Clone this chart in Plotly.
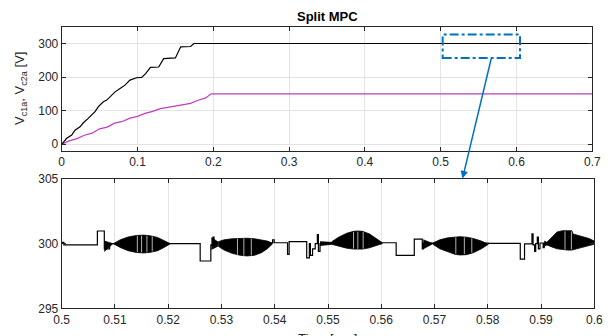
import plotly.graph_objects as go

# ---------------- data: top panel (full transient) ----------------
c1_t = [0, 0.0066, 0.0132, 0.0175, 0.0242, 0.0286, 0.035, 0.0395, 0.044, 0.0484, 0.055,
        0.0594, 0.066, 0.0704, 0.077, 0.0835, 0.09, 0.0989, 0.1055, 0.111, 0.117, 0.128,
        0.1345, 0.150, 0.157, 0.170, 0.1745, 0.18, 0.7]
c1_v = [0, 17.8, 27.6, 42, 52, 64, 77, 87, 97, 112, 126.5,
        131.5, 146, 156, 166, 176, 191, 198, 199, 211, 229, 230,
        255, 257, 290, 291, 300, 300, 300]

c2_t = [0, 0.01, 0.02, 0.03, 0.04, 0.05, 0.06, 0.07, 0.08, 0.09, 0.10, 0.11, 0.12,
        0.13, 0.14, 0.15, 0.16, 0.17, 0.18, 0.19, 0.197, 0.7]
c2_v = [0, 10, 17, 27, 33, 46, 51, 63, 68, 78, 83, 92, 98,
        106, 110, 114, 118, 122, 131, 138, 150, 150]

# zoom window marked on top panel
win_t = [0.5026, 0.6046]
win_v = [257.2, 326.7]

# ---------------- data: bottom panel (zoom 0.5..0.6 s) ----------------
step_t = [0.5000, 0.5004, 0.5067, 0.5080, 0.5090, 0.5260, 0.5280, 0.5284, 0.5286, 0.5290,
          0.5396, 0.5399, 0.5424, 0.5427, 0.5460, 0.5465, 0.5467, 0.5471, 0.5476, 0.5480,
          0.5482, 0.5485, 0.5601, 0.5628, 0.5662, 0.5677, 0.5679, 0.5801, 0.5861, 0.5869,
          0.5883, 0.5885, 0.5888, 0.5890, 0.5893, 0.5895, 0.5898, 0.5904, 0.5906, 0.6000]
step_v = [300.10, 299.90, 300.98, 299.60, 300.00, 298.66, 299.90, 300.50, 299.80, 300.05,
          300.30, 300.07, 299.17, 300.15, 298.90, 300.00, 299.10, 299.60, 300.00, 300.70,
          299.40, 300.00, 300.07, 299.10, 300.35, 299.60, 300.05, 300.02, 298.80, 299.98,
          300.75, 299.90, 299.40, 300.00, 300.50, 299.60, 300.05, 299.70, 300.05, 300.00]

# oscillation bursts: envelope (time, upper, lower)
bursts = [
    ([0.5080, 0.5096], [300.20, 300.00], [299.40, 300.00]),
    ([0.5097, 0.5110, 0.5125, 0.5140, 0.5153, 0.5165, 0.5180, 0.5192, 0.5204],
     [300.00, 300.30, 300.52, 300.63, 300.66, 300.62, 300.48, 300.25, 300.00],
     [300.00, 299.70, 299.45, 299.32, 299.28, 299.32, 299.45, 299.70, 300.00]),
    ([0.5281, 0.5293], [300.45, 300.15], [299.55, 299.80]),
    ([0.5294, 0.5305, 0.5320, 0.5335, 0.5348, 0.5362, 0.5375, 0.5386, 0.5395],
     [300.15, 300.30, 300.38, 300.42, 300.42, 300.38, 300.30, 300.20, 300.05],
     [299.80, 299.50, 299.25, 299.10, 299.05, 299.10, 299.30, 299.60, 299.95]),
    ([0.5485, 0.5507], [300.15, 300.10], [299.85, 299.95]),
    ([0.5507, 0.5520, 0.5535, 0.5548, 0.5556, 0.5565, 0.5578, 0.5590, 0.5601],
     [300.15, 300.50, 300.80, 300.95, 300.98, 300.95, 300.75, 300.40, 300.10],
     [299.95, 299.80, 299.65, 299.58, 299.56, 299.58, 299.68, 299.85, 300.00]),
    ([0.5679, 0.5697], [300.30, 300.00], [299.60, 300.00]),
    ([0.5697, 0.5710, 0.5725, 0.5738, 0.5748, 0.5760, 0.5773, 0.5788, 0.5801],
     [300.05, 300.30, 300.45, 300.52, 300.54, 300.50, 300.40, 300.20, 300.00],
     [299.95, 299.60, 299.35, 299.18, 299.12, 299.15, 299.30, 299.60, 299.95]),
    ([0.5906, 0.5911], [300.20, 300.10], [299.80, 299.90]),
    ([0.5911, 0.5920, 0.5930, 0.5940, 0.5950, 0.5958, 0.5960, 0.5975, 0.5990, 0.6000],
     [300.10, 300.45, 300.90, 301.00, 301.00, 301.00, 300.75, 300.60, 300.40, 300.20],
     [299.90, 299.75, 299.60, 299.55, 299.50, 299.50, 299.55, 299.70, 299.85, 299.95]),
]

# thin white gaps seen inside the bursts: (time, low, high)
gaps = [(0.5142, 299.35, 300.60), (0.5150, 299.32, 300.62), (0.5160, 299.33, 300.60),
        (0.5170, 299.40, 300.55),
        (0.5330, 299.15, 300.38), (0.5342, 299.08, 300.40), (0.5356, 299.10, 300.38),
        (0.5548, 299.62, 300.90), (0.5556, 299.60, 300.93), (0.5566, 299.62, 300.90),
        (0.5740, 299.22, 300.48), (0.5756, 299.20, 300.48), (0.5770, 299.30, 300.40),
        (0.5945, 299.55, 300.95), (0.5957, 299.55, 300.95)]

top_xticks = [0, 0.1, 0.2, 0.3, 0.4, 0.5, 0.6, 0.7]
top_yticks = [0, 100, 200, 300]
bot_xticks = [0.5, 0.51, 0.52, 0.53, 0.54, 0.55, 0.56, 0.57, 0.58, 0.59, 0.6]
bot_yticks = [295, 300, 305]

W, H = 616, 336
AX = '#262626'
GRID = '#e3e3e3'
BLUE = '#0072BD'
FONT = 'Liberation Sans, Arial, sans-serif'

fig = go.Figure()
fig.add_trace(go.Scatter(x=c2_t, y=c2_v, mode='lines', line=dict(color='#C03CC0', width=1.2),
                         xaxis='x', yaxis='y', showlegend=False))
fig.add_trace(go.Scatter(x=c1_t, y=c1_v, mode='lines', line=dict(color='black', width=1.2),
                         xaxis='x', yaxis='y', showlegend=False))

fig.add_trace(go.Scatter(x=step_t, y=step_v, mode='lines', line=dict(color='black', width=1.2, shape='hv'),
                         xaxis='x2', yaxis='y2', showlegend=False))
for bt, up, lo in bursts:
    fig.add_trace(go.Scatter(x=bt + bt[::-1], y=up + lo[::-1], mode='lines', fill='toself',
                             fillcolor='black', line=dict(color='black', width=0.8),
                             xaxis='x2', yaxis='y2', showlegend=False))
gx, gy = [], []
for t, lo, hi in gaps:
    gx += [t, t, None]
    gy += [lo, hi, None]
fig.add_trace(go.Scatter(x=gx, y=gy, mode='lines', line=dict(color='white', width=0.7),
                         xaxis='x2', yaxis='y2', showlegend=False))

def px_x(p):
    return p / W

def px_y(p):
    return 1 - p / H

axis_common = dict(showline=True, linecolor=AX, linewidth=1, mirror='ticks', ticks='inside',
                   ticklen=4, tickcolor=AX, tickwidth=1, zeroline=False, automargin=False,
                   tickfont=dict(family=FONT, size=12, color=AX))

fig.update_layout(
    width=W, height=H, margin=dict(l=0, r=0, t=0, b=0, pad=0, autoexpand=False),
    paper_bgcolor='white', plot_bgcolor='white',
    xaxis=dict(domain=[px_x(61.7), px_x(592.3)], range=[0, 0.7], tickvals=top_xticks,
               showgrid=True, gridcolor=GRID, anchor='y', **axis_common),
    yaxis=dict(domain=[px_y(151), px_y(26.7)], range=[-20, 350], tickvals=top_yticks,
               showgrid=True, gridcolor=GRID, anchor='x', **axis_common),
    xaxis2=dict(domain=[px_x(61.7), px_x(594.3)], range=[0.5, 0.6], tickvals=bot_xticks,
                ticktext=[('%g' % v) for v in bot_xticks],
                showgrid=True, gridcolor=GRID, anchor='y2', **axis_common),
    yaxis2=dict(domain=[px_y(308.3), px_y(179)], range=[295, 305], tickvals=bot_yticks,
                showgrid=False, anchor='x2', **axis_common),
)

fig.add_shape(type='rect', xref='x', yref='y', x0=win_t[0], x1=win_t[1], y0=win_v[0], y1=win_v[1],
              line=dict(color=BLUE, width=2, dash='dashdot'))

fig.add_annotation(xref='paper', yref='paper', x=px_x(462.5), y=px_y(178.5), ax=29, ay=-121,
                   axref='pixel', ayref='pixel', showarrow=True, arrowhead=2, arrowsize=1,
                   arrowwidth=1.5, arrowcolor=BLUE, text='', standoff=0)

fig.add_annotation(xref='paper', yref='paper', x=px_x(327), y=px_y(16), text='<b>Split MPC</b>',
                   showarrow=False, font=dict(family=FONT, size=13, color='black'),
                   xanchor='center', yanchor='middle')
fig.add_annotation(xref='paper', yref='paper', x=px_x(21), y=px_y(89),
                   text='V<sub>c1a</sub>, V<sub>c2a</sub> [V]', textangle=-90, showarrow=False,
                   font=dict(family=FONT, size=13, color=AX), xanchor='center', yanchor='middle')
fig.add_annotation(xref='paper', yref='paper', x=px_x(327), y=px_y(329), text='Time [sec]',
                   showarrow=False, font=dict(family=FONT, size=13, color=AX),
                   xanchor='center', yanchor='top')

fig.write_html('out.html')
